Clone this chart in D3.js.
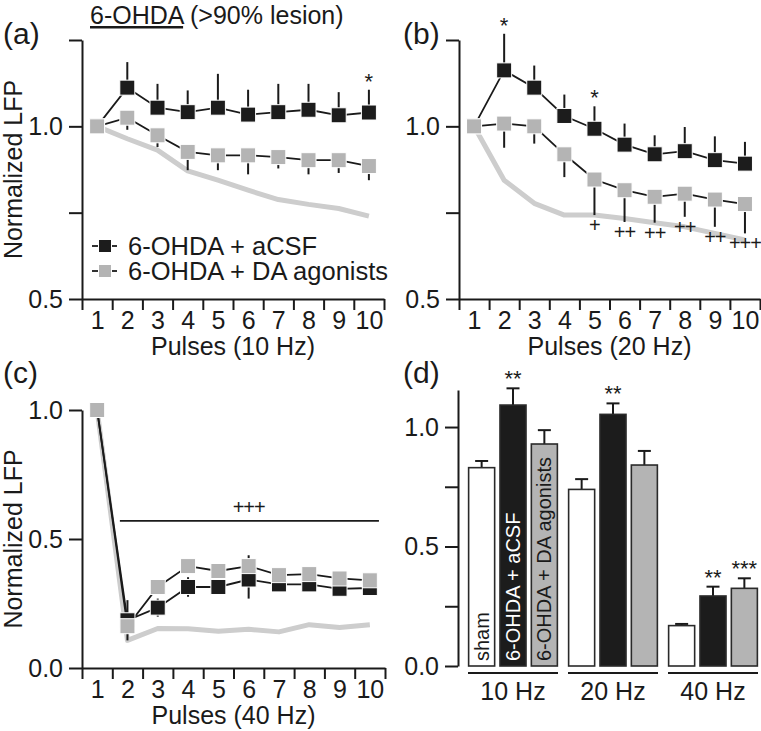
<!DOCTYPE html>
<html><head><meta charset="utf-8">
<script src="https://cdn.jsdelivr.net/npm/d3@7"></script>
<style>
body{margin:0;background:#fff}
svg{display:block}
text{font-family:"Liberation Sans", Arial, Helvetica, sans-serif; fill:#1a1a1a}
</style>
</head><body>
<svg id="chart" width="761" height="731"></svg>
<script>
// ---------- data ----------
const pulses = [1,2,3,4,5,6,7,8,9,10];
const seriesNames = ["6-OHDA + aCSF", "6-OHDA + DA agonists"];

// (a) 10 Hz
const aCSF10    = [1.0, 1.112, 1.054, 1.041, 1.054, 1.034, 1.041, 1.048, 1.032, 1.040];
const aCSF10Err = [0, 0.074, 0.069, 0.063, 0.098, 0.072, 0.082, 0.075, 0.067, 0.066];
const DA10      = [1.0, 1.025, 0.974, 0.926, 0.916, 0.916, 0.911, 0.902, 0.902, 0.885];
const DA10Err   = [0, 0.035, 0.034, 0.053, 0.043, 0.055, 0.033, 0.041, 0.037, 0.041];
const sham10    = [1.0, 0.964, 0.931, 0.871, 0.844, 0.815, 0.788, 0.774, 0.762, 0.740];
const stars10   = [{pulse:10, text:"*"}];
const plus10    = [];

// (b) 20 Hz
const aCSF20    = [1.0, 1.162, 1.112, 1.030, 0.993, 0.947, 0.919, 0.928, 0.902, 0.892];
const aCSF20Err = [0, 0.106, 0.064, 0.062, 0.065, 0.061, 0.055, 0.070, 0.069, 0.063];
const DA20      = [1.0, 1.008, 1.000, 0.919, 0.846, 0.815, 0.796, 0.805, 0.788, 0.775];
const DA20Err   = [0, 0.070, 0.050, 0.066, 0.103, 0.092, 0.075, 0.067, 0.079, 0.085];
const sham20    = [1.0, 0.844, 0.777, 0.743, 0.743, 0.733, 0.721, 0.709, 0.690, 0.671];
const stars20   = [{pulse:2, text:"*"}, {pulse:5, text:"*"}];
const plus20    = [{pulse:5, text:"+"}, {pulse:6, text:"++"}, {pulse:7, text:"++"},
                   {pulse:8, text:"++"}, {pulse:9, text:"++"}, {pulse:10, text:"+++"}];

// (c) 40 Hz
const aCSF40    = [1.0, 0.185, 0.234, 0.314, 0.314, 0.343, 0.324, 0.324, 0.307, 0.310];
const aCSF40Err = [0, 0.078, 0.035, 0.038, 0.015, 0.074, 0.015, 0.015, 0.015, 0.015];
const DA40      = [1.0, 0.162, 0.314, 0.395, 0.376, 0.395, 0.360, 0.364, 0.347, 0.340];
const DA40Err   = [0, 0.020, 0.020, 0.020, 0.020, 0.042, 0.020, 0.020, 0.020, 0.020];
const sham40    = [1.0, 0.107, 0.153, 0.152, 0.142, 0.150, 0.140, 0.168, 0.157, 0.168];
const sigLine40 = {from:1.75, to:10.3, value:0.57, text:"+++", at:6};

// (d) bars
const barGroups  = ["10 Hz", "20 Hz", "40 Hz"];
const barSeries  = ["sham", "6-OHDA + aCSF", "6-OHDA + DA agonists"];
const barSham    = [0.830, 0.739, 0.169];
const barShamErr = [0.028, 0.043, 0.007];
const barACSF    = [1.092, 1.053, 0.293];
const barACSFErr = [0.070, 0.046, 0.039];
const barDA      = [0.929, 0.841, 0.325];
const barDAErr   = [0.058, 0.059, 0.042];
const barStars   = [{group:"10 Hz", series:"6-OHDA + aCSF", text:"**"},
                    {group:"20 Hz", series:"6-OHDA + aCSF", text:"**"},
                    {group:"40 Hz", series:"6-OHDA + aCSF", text:"**"},
                    {group:"40 Hz", series:"6-OHDA + DA agonists", text:"***"}];

// ---------- styles ----------
const BLACK = "#1c1c1c", GRAY = "#b4b4b4", SHAM = "#cdcdcd", INK = "#1a1a1a";
const FS = 25;
const svg = d3.select("#chart");

function styleAxis(g){
  g.selectAll(".domain").attr("stroke", INK).attr("stroke-width", 2);
  g.selectAll(".tick line").attr("stroke", INK).attr("stroke-width", 2);
  g.selectAll(".tick text").attr("font-size", FS).attr("fill", INK)
    .attr("font-family", '"Liberation Sans", Arial, Helvetica, sans-serif');
}

function linePanel(cfg){
  const x = d3.scaleLinear().domain([0.5, 10.5]).range(cfg.xRange);
  const y = d3.scaleLinear().domain(cfg.yDomain).range(cfg.yRange);
  const g = svg.append("g");
  const x0 = cfg.xRange[0], yBase = cfg.yRange[0];

  const ya = g.append("g").attr("transform", `translate(${x0},0)`)
    .call(d3.axisLeft(y).tickValues(cfg.yTicks).tickSize(13).tickSizeOuter(0).tickPadding(6)
      .tickFormat(d => cfg.yLabels.includes(d) ? d3.format(".1f")(d) : ""));
  styleAxis(ya);
  const xa = g.append("g").attr("transform", `translate(0,${yBase})`)
    .call(d3.axisBottom(x).tickValues(d3.range(0.5, 11, 1)).tickSize(11).tickSizeOuter(0).tickFormat(""));
  styleAxis(xa);
  xa.selectAll(".tick text").remove();
  const xl = g.append("g").attr("transform", `translate(0,${yBase})`)
    .call(d3.axisBottom(x).tickValues(pulses).tickSize(0).tickPadding(12).tickFormat(d3.format("d")));
  styleAxis(xl);
  xl.select(".domain").remove();

  g.append("text").attr("x", (cfg.xRange[0]+cfg.xRange[1])/2).attr("y", yBase + 56)
    .attr("text-anchor", "middle").attr("font-size", FS).text(cfg.xLabel);
  if (cfg.yLabel){
    g.append("text").attr("transform", `translate(22,${(cfg.yRange[0]+cfg.yRange[1])/2}) rotate(-90)`)
      .attr("text-anchor", "middle").attr("font-size", FS).text(cfg.yLabel);
  }

  const idx = d3.range(pulses.length);
  g.append("path").datum(idx)
    .attr("d", d3.line().x(i => x(pulses[i])).y(i => y(cfg.sham[i])))
    .attr("fill", "none").attr("stroke", SHAM).attr("stroke-width", 5).attr("stroke-linejoin", "round");
  [cfg.black, cfg.gray].forEach(s => {
    g.append("path").datum(idx)
      .attr("d", d3.line().x(i => x(pulses[i])).y(i => y(s[i])))
      .attr("fill", "none").attr("stroke", INK).attr("stroke-width", 1.8);
  });
  const errs = [];
  idx.forEach(i => {
    if (cfg.blackErr[i] > 0){
      const lo = cfg.errBoth ? cfg.black[i]-cfg.blackErr[i] : cfg.black[i];
      errs.push([i, lo, cfg.black[i]+cfg.blackErr[i]]);
    }
    if (cfg.grayErr[i] > 0){
      const hi = cfg.errBoth ? cfg.gray[i]+cfg.grayErr[i] : cfg.gray[i];
      errs.push([i, cfg.gray[i]-cfg.grayErr[i], hi]);
    }
  });
  g.selectAll(".err").data(errs).join("line")
    .attr("x1", d => x(pulses[d[0]])).attr("x2", d => x(pulses[d[0]]))
    .attr("y1", d => y(d[1])).attr("y2", d => y(d[2]))
    .attr("stroke", INK).attr("stroke-width", 2);
  const M = 15;
  [[cfg.black, BLACK], [cfg.gray, GRAY]].forEach(([s, col]) => {
    g.selectAll(null).data(idx).join("rect")
      .attr("x", i => x(pulses[i]) - M/2).attr("y", i => y(s[i]) - M/2)
      .attr("width", M).attr("height", M)
      .attr("fill", col).attr("stroke", "#fff").attr("stroke-width", 1);
  });
  (cfg.stars||[]).forEach(a => {
    const i = pulses.indexOf(a.pulse);
    g.append("text").attr("x", x(a.pulse)).attr("y", y(cfg.black[i]+cfg.blackErr[i]) - 1)
      .attr("text-anchor", "middle").attr("font-size", 22).text(a.text);
  });
  (cfg.plus||[]).forEach(a => {
    const i = pulses.indexOf(a.pulse);
    g.append("text").attr("x", x(a.pulse)).attr("y", y(cfg.gray[i]-cfg.grayErr[i]) + 17)
      .attr("text-anchor", "middle").attr("font-size", 20).attr("letter-spacing", -1).text(a.text);
  });
  if (cfg.sig){
    const s = cfg.sig;
    g.append("line").attr("x1", x(s.from)).attr("x2", x(s.to)).attr("y1", y(s.value)).attr("y2", y(s.value))
      .attr("stroke", INK).attr("stroke-width", 1.8);
    g.append("text").attr("x", x(s.at)).attr("y", y(s.value) - 7).attr("text-anchor", "middle")
      .attr("font-size", 20).attr("letter-spacing", -1).text(s.text);
  }
  return g;
}

linePanel({xRange:[82,384], yDomain:[0.5,1.25], yRange:[299,40], yTicks:[0.5,0.75,1,1.25], yLabels:[0.5,1],
  black:aCSF10, blackErr:aCSF10Err, gray:DA10, grayErr:DA10Err, sham:sham10,
  xLabel:"Pulses (10 Hz)", yLabel:"Normalized LFP", stars:stars10, plus:plus10});
linePanel({xRange:[459,760], yDomain:[0.5,1.25], yRange:[299,40], yTicks:[0.5,0.75,1,1.25], yLabels:[0.5,1],
  black:aCSF20, blackErr:aCSF20Err, gray:DA20, grayErr:DA20Err, sham:sham20,
  xLabel:"Pulses (20 Hz)", yLabel:null, stars:stars20, plus:plus20});
linePanel({xRange:[82,385], yDomain:[0,1], yRange:[668,410], yTicks:[0,0.5,1], yLabels:[0,0.5,1],
  black:aCSF40, blackErr:aCSF40Err, gray:DA40, grayErr:DA40Err, sham:sham40, errBoth:true,
  xLabel:"Pulses (40 Hz)", yLabel:"Normalized LFP", sig:sigLine40});

// ---------- panel (d) ----------
(function(){
  const y = d3.scaleLinear().domain([0, 1.155]).range([666, 390]);
  const gx = d3.scaleBand().domain(barGroups).range([463, 763]).paddingInner(0.1).paddingOuter(0.05);
  const sx = d3.scaleBand().domain(barSeries).range([0, gx.bandwidth()]).paddingInner(0.17).paddingOuter(0.02);
  const g = svg.append("g");
  const ya = g.append("g").attr("transform", "translate(458,0)")
    .call(d3.axisLeft(y).tickValues([0,0.25,0.5,0.75,1]).tickSize(13).tickSizeOuter(0).tickPadding(6)
      .tickFormat(d => [0,0.5,1].includes(d) ? d3.format(".1f")(d) : ""));
  styleAxis(ya);

  const vals = {"sham":barSham, "6-OHDA + aCSF":barACSF, "6-OHDA + DA agonists":barDA};
  const errs = {"sham":barShamErr, "6-OHDA + aCSF":barACSFErr, "6-OHDA + DA agonists":barDAErr};
  const fills = {"sham":"#ffffff", "6-OHDA + aCSF":BLACK, "6-OHDA + DA agonists":GRAY};
  const data = [];
  barGroups.forEach((gr, gi) => barSeries.forEach(s => data.push({gr, gi, s, v:vals[s][gi], e:errs[s][gi]})));
  const bx = d => gx(d.gr) + sx(d.s);
  const bw = sx.bandwidth();
  g.selectAll(".eb").data(data).join("line")
    .attr("x1", d => bx(d)+bw/2).attr("x2", d => bx(d)+bw/2)
    .attr("y1", d => y(d.v)).attr("y2", d => y(d.v+d.e))
    .attr("stroke", INK).attr("stroke-width", 2);
  g.selectAll(".cap").data(data).join("line")
    .attr("x1", d => bx(d)+bw/2-6.5).attr("x2", d => bx(d)+bw/2+6.5)
    .attr("y1", d => y(d.v+d.e)).attr("y2", d => y(d.v+d.e))
    .attr("stroke", INK).attr("stroke-width", 2);
  g.selectAll(".bar").data(data).join("rect")
    .attr("x", d => bx(d)).attr("width", bw)
    .attr("y", d => y(d.v)).attr("height", d => y(0) - y(d.v))
    .attr("fill", d => fills[d.s]).attr("stroke", "#2a2a2a").attr("stroke-width", 1.6);
  const txtCol = {"sham":INK, "6-OHDA + aCSF":"#ffffff", "6-OHDA + DA agonists":INK};
  data.filter(d => d.gi === 0).forEach(d => {
    g.append("text").attr("transform", `translate(${bx(d)+bw/2+7},${y(0)-5}) rotate(-90)`)
      .attr("font-size", 20).style("fill", txtCol[d.s]).text(d.s);
  });
  barGroups.forEach(gr => {
    g.append("line").attr("x1", gx(gr)).attr("x2", gx(gr)+gx.bandwidth()).attr("y1", 673).attr("y2", 673)
      .attr("stroke", INK).attr("stroke-width", 2);
    g.append("text").attr("x", gx(gr)+gx.bandwidth()/2).attr("y", 700).attr("text-anchor", "middle")
      .attr("font-size", FS).text(gr);
  });
  barStars.forEach(a => {
    const d = data.find(q => q.gr === a.group && q.s === a.series);
    g.append("text").attr("x", bx(d)+bw/2).attr("y", y(d.v+d.e) - 2).attr("text-anchor", "middle")
      .attr("font-size", 22).text(a.text);
  });
})();

// ---------- legend ----------
const leg = svg.append("g");
[[BLACK, 0], [GRAY, 1]].forEach(([col, k]) => {
  const cy = 246 + k*25;
  leg.append("line").attr("x1", 92).attr("x2", 117).attr("y1", cy).attr("y2", cy).attr("stroke", INK).attr("stroke-width", 1.8);
  leg.append("rect").attr("x", 98.5).attr("y", cy-6.5).attr("width", 13).attr("height", 13).attr("fill", col)
    .attr("stroke", "#fff").attr("stroke-width", 1);
  leg.append("text").attr("x", 128).attr("y", cy + 9).attr("font-size", 25.5).text(seriesNames[k]);
});

// ---------- titles / panel letters ----------
svg.append("text").attr("x", 3).attr("y", 44).attr("font-size", 30).text("(a)");
svg.append("text").attr("x", 403).attr("y", 44).attr("font-size", 30).text("(b)");
svg.append("text").attr("x", 3).attr("y", 383).attr("font-size", 30).text("(c)");
svg.append("text").attr("x", 403).attr("y", 383).attr("font-size", 30).text("(d)");
const title = svg.append("text").attr("x", 90).attr("y", 24).attr("font-size", FS);
title.append("tspan").attr("text-decoration", "underline").text("6-OHDA");
title.append("tspan").text(" (>90% lesion)");
</script>
</body></html>
